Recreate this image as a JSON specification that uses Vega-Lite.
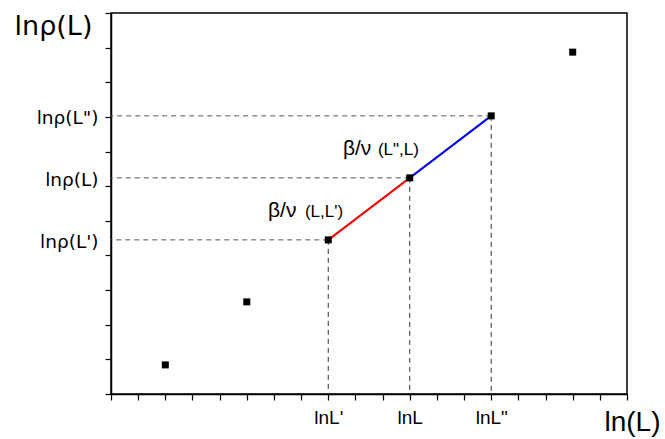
{
  "$schema": "https://vega.github.io/schema/vega-lite/v6.json",
  "width": 516,
  "height": 381,
  "autosize": {"type": "none"},
  "padding": {"left": 111, "top": 13, "right": 38, "bottom": 45},
  "background": "white",
  "datasets": {
    "points": [
      {"x": 2, "y": 0.84},
      {"x": 5, "y": 2.66},
      {"x": 8, "y": 4.45},
      {"x": 11, "y": 6.24},
      {"x": 14, "y": 8.03},
      {"x": 17, "y": 9.87}
    ],
    "guides": [
      {"x": 8, "y": 4.45},
      {"x": 11, "y": 6.24},
      {"x": 14, "y": 8.03}
    ],
    "segments": [
      {"seg": "L,L'", "x": 8, "y": 4.45},
      {"seg": "L,L'", "x": 11, "y": 6.24},
      {"seg": "L\",L", "x": 11, "y": 6.24},
      {"seg": "L\",L", "x": 14, "y": 8.03}
    ],
    "notes": [
      {"part": "symbol", "text": "β/ν", "x": 5.78, "y": 5.11},
      {"part": "pair", "text": "(L,L')", "x": 7.14, "y": 5.11},
      {"part": "symbol", "text": "β/ν", "x": 8.54, "y": 6.9},
      {"part": "pair", "text": "(L\",L)", "x": 9.83, "y": 6.9}
    ]
  },
  "config": {
    "view": {"stroke": "#000", "strokeWidth": 1.5},
    "text": {"font": "Liberation Sans"}
  },
  "encoding": {
    "x": {
      "field": "x",
      "type": "quantitative",
      "scale": {"domain": [0, 19], "nice": false, "zero": false},
      "axis": {
        "values": [0, 1, 2, 3, 4, 5, 6, 7, 8, 9, 10, 11, 12, 13, 14, 15, 16, 17, 18, 19],
        "labelExpr": "datum.value == 8 ? \"lnL'\" : datum.value == 11 ? 'lnL' : datum.value == 14 ? 'lnL\"' : ''",
        "grid": false,
        "domainColor": "#000",
        "domainWidth": 1.5,
        "tickColor": "#000",
        "tickWidth": 1.2,
        "tickSize": 6,
        "labelFont": "Liberation Sans",
        "labelFontSize": 19,
        "labelColor": "#000",
        "labelOverlap": false,
        "labelFlush": false,
        "labelPadding": 8,
        "title": "ln(L)",
        "titleFont": "Liberation Sans",
        "titleFontSize": 28,
        "titleFontWeight": "normal",
        "titleColor": "#000",
        "titleX": 521,
        "titleY": 36,
        "titleAlign": "center",
        "titleBaseline": "alphabetic"
      }
    },
    "y": {
      "field": "y",
      "type": "quantitative",
      "scale": {"domain": [0, 11], "nice": false, "zero": false},
      "axis": {
        "values": [0, 1, 2, 3, 4, 5, 6, 7, 8, 9, 10, 11, 4.45, 6.24, 8.03],
        "tickOpacity": {"condition": {"test": "datum.value % 1 !== 0", "value": 0}, "value": 1},
        "labelExpr": "datum.value == 8.03 ? 'lnρ(L\")' : datum.value == 6.24 ? 'lnρ(L)' : datum.value == 4.45 ? \"lnρ(L')\" : ''",
        "grid": false,
        "domainColor": "#000",
        "domainWidth": 1.5,
        "tickColor": "#000",
        "tickWidth": 1.2,
        "tickSize": 6,
        "labelFont": "DejaVu Sans",
        "labelFontSize": 18.5,
        "labelColor": "#000",
        "labelOverlap": false,
        "labelFlush": false,
        "labelPadding": 7,
        "labelOffset": 2,
        "title": "lnρ(L)",
        "titleFont": "DejaVu Sans",
        "titleFontSize": 27,
        "titleFontWeight": "normal",
        "titleColor": "#000",
        "titleAngle": 0,
        "titleX": -58,
        "titleY": 21,
        "titleAlign": "center",
        "titleBaseline": "alphabetic"
      }
    }
  },
  "layer": [
    {
      "data": {"name": "guides"},
      "mark": {"type": "rule", "color": "#555", "strokeWidth": 1, "strokeDash": [5, 4]},
      "encoding": {
        "x2": {"datum": 0}
      }
    },
    {
      "data": {"name": "guides"},
      "mark": {"type": "rule", "color": "#333", "strokeWidth": 1, "strokeDash": [5, 4]},
      "encoding": {
        "y2": {"datum": 0}
      }
    },
    {
      "data": {"name": "segments"},
      "mark": {"type": "line", "strokeWidth": 2},
      "encoding": {
        "color": {
          "field": "seg",
          "type": "nominal",
          "scale": {"domain": ["L,L'", "L\",L"], "range": ["#ff0000", "#0000ff"]},
          "legend": null
        }
      }
    },
    {
      "data": {"name": "points"},
      "mark": {"type": "point", "shape": "square", "filled": true, "size": 49, "color": "#000", "opacity": 1},
      "encoding": {}
    },
    {
      "data": {"name": "notes"},
      "mark": {"type": "text", "align": "left", "baseline": "alphabetic", "color": "#000"},
      "encoding": {
        "text": {"field": "text"},
        "size": {
          "field": "part",
          "type": "nominal",
          "scale": {"domain": ["symbol", "pair"], "range": [21, 17]},
          "legend": null
        }
      }
    }
  ]
}
